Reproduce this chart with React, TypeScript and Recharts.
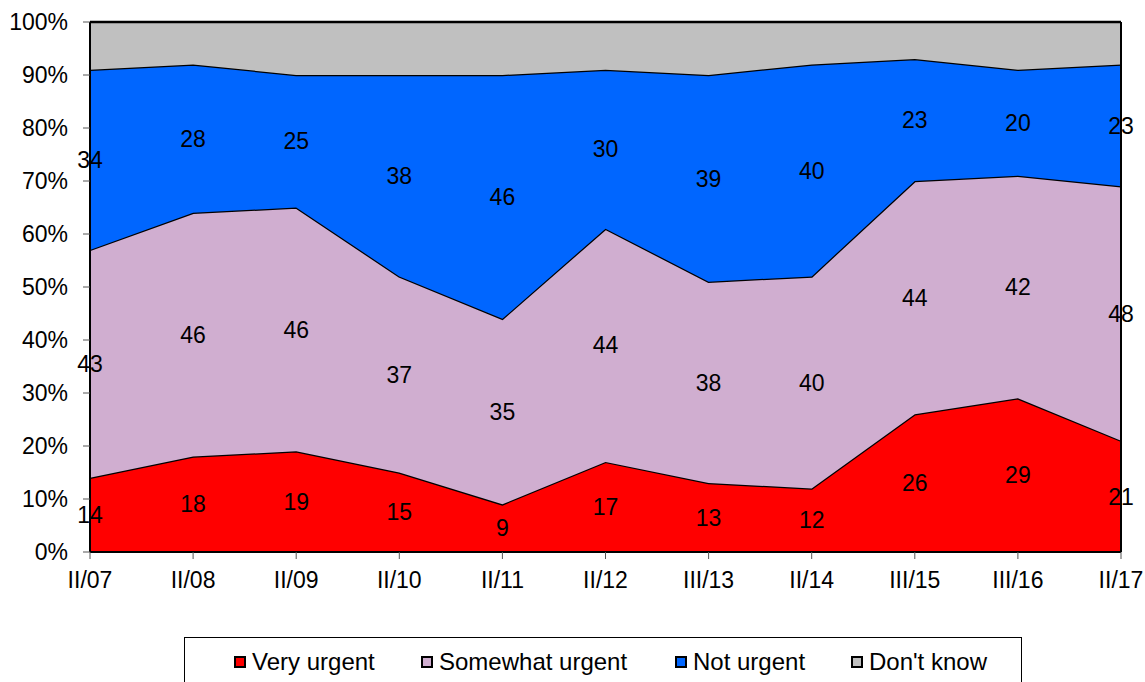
import { Area, AreaChart, LabelList, Line, ReferenceLine, XAxis, YAxis } from "recharts";

const CATEGORIES = ["II/07", "II/08", "II/09", "II/10", "II/11", "II/12", "III/13", "II/14", "III/15", "III/16", "II/17"];
const VERY_URGENT = [14, 18, 19, 15, 9, 17, 13, 12, 26, 29, 21];
const SOMEWHAT_URGENT = [43, 46, 46, 37, 35, 44, 38, 40, 44, 42, 48];
const NOT_URGENT = [34, 28, 25, 38, 46, 30, 39, 40, 23, 20, 23];
const DONT_KNOW = [9, 8, 10, 10, 10, 9, 10, 8, 7, 9, 8];
const Y_TICKS = [0, 10, 20, 30, 40, 50, 60, 70, 80, 90, 100];

const SERIES = [
  { key: "very", name: "Very urgent", color: "#ff0000", values: VERY_URGENT, labelled: true },
  { key: "some", name: "Somewhat urgent", color: "#d0aed0", values: SOMEWHAT_URGENT, labelled: true },
  { key: "not", name: "Not urgent", color: "#0066ff", values: NOT_URGENT, labelled: true },
  { key: "dk", name: "Don't know", color: "#c0c0c0", values: DONT_KNOW, labelled: false },
];

// legend item offsets inside the legend box
const LEGEND_LEFT = [49, 236, 490, 666];

// one row per survey; "<key>Mid" = middle of the band, used to place the value labels
const data = CATEGORIES.map((cat, i) => {
  const row: Record<string, string | number> = { cat };
  let base = 0;
  for (const s of SERIES) {
    row[s.key] = s.values[i];
    row[s.key + "Mid"] = base + s.values[i] / 2;
    base += s.values[i];
  }
  return row;
});

const FONT = "'Liberation Sans', Arial, sans-serif";

export default function App() {
  return (
    <div style={{ position: "absolute", left: 0, top: 0, width: 1145, height: 682, background: "#fff", fontFamily: FONT }}>
      <AreaChart width={1145} height={600} data={data} margin={{ top: 22, right: 24, bottom: 0, left: 0 }}>
        <XAxis
          dataKey="cat"
          height={48}
          tick={{ fill: "#000", fontSize: 23, fontFamily: FONT }}
          tickSize={7}
          tickMargin={13}
          axisLine={{ stroke: "#000", strokeWidth: 2 }}
          tickLine={{ stroke: "#555" }}
          interval={0}
        />
        <YAxis
          width={90}
          domain={[0, 100]}
          ticks={Y_TICKS}
          tickFormatter={(v) => `${v}%`}
          tick={{ fill: "#000", fontSize: 23, fontFamily: FONT }}
          tickSize={7}
          tickMargin={15}
          axisLine={{ stroke: "#000", strokeWidth: 2 }}
          tickLine={{ stroke: "#555" }}
        />
        {SERIES.map((s) => (
          <Area
            key={s.key}
            type="linear"
            dataKey={s.key}
            stackId="1"
            stroke="#000"
            strokeWidth={2.5}
            fill={s.color}
            fillOpacity={1}
            isAnimationActive={false}
          />
        ))}
        <ReferenceLine x="II/17" stroke="#000" strokeWidth={2} />
        {SERIES.filter((s) => s.labelled).map((s) => (
          <Line
            key={s.key + "Mid"}
            dataKey={s.key + "Mid"}
            stroke="none"
            dot={false}
            activeDot={false}
            isAnimationActive={false}
          >
            <LabelList dataKey={s.key} position="center" fill="#000" fontSize={23} fontFamily={FONT} />
          </Line>
        ))}
      </AreaChart>
      <div
        style={{
          position: "absolute",
          left: 184,
          top: 637,
          width: 838,
          height: 60,
          border: "1px solid #000",
          boxSizing: "border-box",
          fontSize: 24,
          color: "#000",
        }}
      >
        {SERIES.map((s, i) => (
          <div
            key={s.key}
            style={{ position: "absolute", left: LEGEND_LEFT[i], top: 10, display: "flex", alignItems: "center", whiteSpace: "nowrap" }}
          >
            <span
              style={{
                display: "inline-block",
                width: 8,
                height: 8,
                background: s.color,
                border: "2px solid #000",
                marginRight: 6,
              }}
            />
            <span>{s.name}</span>
          </div>
        ))}
      </div>
    </div>
  );
}
